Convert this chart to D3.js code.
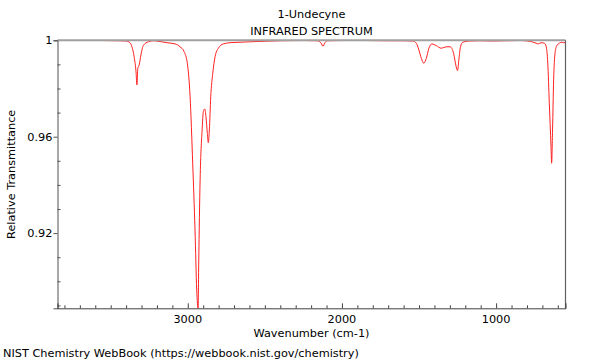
<!DOCTYPE html>
<html>
<head>
<meta charset="utf-8">
<script src="https://cdn.jsdelivr.net/npm/d3@7"></script>
<style>
html,body{margin:0;padding:0;background:#fff;}
svg{display:block;}
text{font-family:"DejaVu Sans",sans-serif;fill:#000;}
</style>
</head>
<body>
<svg id="chart" width="600" height="360"></svg>
<script>
// Spectrum data (wavenumber cm-1, relative transmittance)
const wavenumbers = [3845,3750,3650,3550,3450,3400,3375,3362,3348,3335,3330,3324,3315,3304,3287,3255,3223,3180,3136,3082,3050,3024,3003,2985,2968,2953,2942,2933,2929,2920,2907,2899,2890,2882,2873,2867,2860,2851,2838,2823,2802,2770,2726,2661,2550,2400,2250,2160,2135,2123,2112,2095,2000,1850,1700,1600,1540,1518,1501,1485,1469,1453,1436,1417,1388,1356,1324,1298,1276,1259,1250,1242,1231,1216,1173,1108,1022,940,849,795,763,741,726,709,687,676,665,655,644,640,634,627,618,608,590,573,562,550];
const transmittance = [0.9999,0.9999,0.9999,0.9999,0.9998,0.9997,0.9990,0.9973,0.9932,0.9863,0.9815,0.9884,0.9898,0.9939,0.9980,0.9994,0.9998,0.9995,0.9990,0.9985,0.9973,0.9953,0.9905,0.9766,0.9490,0.9213,0.8964,0.8888,0.9076,0.9420,0.9628,0.9704,0.9715,0.9683,0.9614,0.9575,0.9628,0.9766,0.9863,0.9932,0.9967,0.9985,0.9990,0.9992,0.9995,0.9998,0.9999,0.9998,0.9988,0.9975,0.9988,0.9998,0.9999,0.9999,0.9998,0.9998,0.9997,0.9988,0.9960,0.9925,0.9905,0.9925,0.9967,0.9985,0.9978,0.9967,0.9973,0.9973,0.9946,0.9890,0.9874,0.9918,0.9973,0.9992,0.9997,0.9998,0.9997,0.9998,0.9999,0.9997,0.9993,0.9988,0.9985,0.9990,0.9988,0.9976,0.9905,0.9739,0.9559,0.9490,0.9628,0.9835,0.9946,0.9976,0.9988,0.9992,0.9990,0.9991];
const xMajorTicks = [3000,2000,1000];
const xMinorTicks = [3800,3700,3600,3500,3400,3300,3200,3100,2900,2800,2700,2600,2500,2400,2300,2200,2100,1900,1800,1700,1600,1500,1400,1300,1200,1100,900,800,700,600];
const yMajorTicks = [1,0.96,0.92];
const yMinorTicks = [0.99,0.98,0.97,0.95,0.94,0.93,0.91,0.90,0.89];
const xDomain = [3845,550];
const yDomain = [0.8888,1.0];
const titleLines = ["1-Undecyne","INFRARED SPECTRUM"];
const xLabel = "Wavenumber (cm-1)";
const yLabel = "Relative Transmittance";
const footer = "NIST Chemistry WebBook (https://webbook.nist.gov/chemistry)";

const svg = d3.select("#chart");
const L = 57.5, R = 565.5, T = 40.3, B = 308.3;
const x = d3.scaleLinear().domain(xDomain).range([L,R]);
const y = d3.scaleLinear().domain(yDomain).range([B,T]);
const fs = 11.3;

svg.append("defs").append("clipPath").attr("id","clip")
  .append("rect").attr("x",L).attr("y",T-1).attr("width",R-L).attr("height",B-T+1);

// data line
const data = wavenumbers.map((w,i)=>[w,transmittance[i]]);
const line = d3.line().x(d=>x(d[0])).y(d=>y(d[1])).curve(d3.curveMonotoneX);
svg.append("path").datum(data)
  .attr("clip-path","url(#clip)")
  .attr("d",line).attr("fill","none").attr("stroke","#ff2020").attr("stroke-width",1);

// frame
svg.append("line").attr("x1",L).attr("x2",R).attr("y1",T).attr("y2",T).attr("stroke","#a0a0a0").attr("stroke-width",2);
svg.append("line").attr("x1",R).attr("x2",R).attr("y1",T).attr("y2",B).attr("stroke","#606060").attr("stroke-width",1.2);

// y axis
const yAxis = svg.append("g").attr("transform",`translate(${L},0)`)
  .call(d3.axisLeft(y).tickValues(yMajorTicks).tickSize(4).tickPadding(1).tickFormat(d=>d3.format("")(d)));
yAxis.select(".domain").attr("stroke","#505050");
yAxis.selectAll(".tick line").attr("stroke","#505050");
yAxis.selectAll(".tick text").attr("font-size",fs).attr("font-family","DejaVu Sans");
const yMinor = svg.append("g").attr("transform",`translate(${L},0)`)
  .call(d3.axisRight(y).tickValues(yMinorTicks).tickSize(3).tickFormat(""));
yMinor.select(".domain").remove();
yMinor.selectAll(".tick line").attr("stroke","#505050");

// x axis
const xAxis = svg.append("g").attr("transform",`translate(0,${B})`)
  .call(d3.axisTop(x).tickValues(xMajorTicks).tickSize(5).tickFormat(""));
xAxis.select(".domain").attr("stroke","#404040");
xAxis.selectAll(".tick line").attr("stroke","#404040");
const xMinor = svg.append("g").attr("transform",`translate(0,${B})`)
  .call(d3.axisTop(x).tickValues(xMinorTicks).tickSize(3).tickFormat(""));
xMinor.select(".domain").remove();
xMinor.selectAll(".tick line").attr("stroke","#404040");
svg.append("g").selectAll("text").data(xMajorTicks).join("text")
  .attr("x",d=>x(d)).attr("y",323).attr("text-anchor","middle").attr("font-size",fs).text(d=>d);

// texts
const cx = (L+R)/2;
svg.append("text").attr("x",cx).attr("y",17.5).attr("text-anchor","middle").attr("font-size",fs).text(titleLines[0]);
svg.append("text").attr("x",cx).attr("y",34.5).attr("text-anchor","middle").attr("font-size",fs).text(titleLines[1]);
svg.append("text").attr("x",cx).attr("y",337).attr("text-anchor","middle").attr("font-size",fs).text(xLabel);
svg.append("text").attr("transform",`translate(15,${(T+B)/2}) rotate(-90)`).attr("text-anchor","middle").attr("font-size",fs).text(yLabel);
svg.append("text").attr("x",3).attr("y",357).attr("font-size",fs).text(footer);
</script>
</body>
</html>
